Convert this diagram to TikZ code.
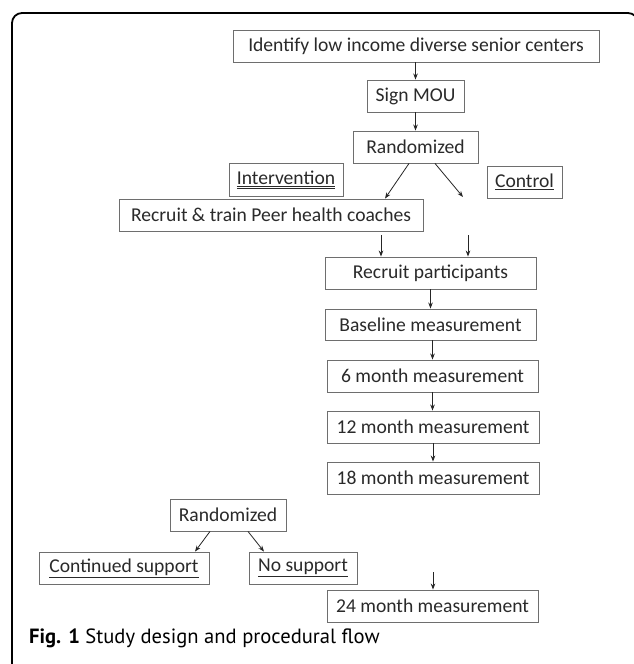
\documentclass[tikz,border=0pt]{standalone}
\usepackage{fontspec}
\setmainfont{Carlito}
\newfontfamily\capfont{PT Sans}
\usetikzlibrary{arrows.meta}
\definecolor{boxgray}{HTML}{6E6E6E}
\definecolor{txtgray}{HTML}{2A2A2A}
\begin{document}
\begin{tikzpicture}[x=1pt,y=-1pt,
  box/.style={draw=boxgray, line width=0.9pt, text=txtgray, inner sep=0pt,
    minimum height=32pt, font=\fontsize{19.6}{22}\selectfont},
  arr/.style={-{Stealth[length=6pt,width=4.5pt]}, line width=0.8pt, draw=black!85}]
\clip (0,0) rectangle (634,664);
\fill[white] (0,0) rectangle (634,664);
% outer frame
\draw[line width=1.8pt, rounded corners=10pt] (12,700) -- (12,13) -- (638,13) -- (638,700);
% boxes
\node[box, minimum width=366pt] (ident) at (416,46) {Identify low income diverse senior centers};
\node[box, minimum width=97pt] (mou) at (415.5,96) {Sign MOU};
\node[box, minimum width=125pt] (rand1) at (415.5,147) {Randomized};
\node[box, minimum width=114pt, minimum height=33pt] (interv) at (286,179.5) {\underline{\underline{Intervention}}};
\node[box, minimum width=75pt] (ctrl) at (524.5,182) {\underline{Control}};
\node[box, minimum width=304pt] (phc) at (271,215) {Recruit \& train Peer health coaches};
\node[box, minimum width=211pt] (rp) at (430.5,273) {Recruit participants};
\node[box, minimum width=211pt, minimum height=31pt] (base) at (430.5,324.5) {Baseline measurement};
\node[box, minimum width=211pt] (m6) at (432.5,376) {6 month measurement};
\node[box, minimum width=212pt] (m12) at (433,427) {12 month measurement};
\node[box, minimum width=212pt] (m18) at (433,478) {18 month measurement};
\node[box, minimum width=116pt] (rand2) at (228,515) {Randomized};
\node[box, minimum width=170pt] (cs) at (124,568) {\underline{Continued support}};
\node[box, minimum width=108pt] (ns) at (303,568) {\underline{No support}};
\node[box, minimum width=211pt] (m24) at (432.5,606) {24 month measurement};
% caption
\node[anchor=west, inner sep=0pt, text=black, font=\capfont\fontsize{20.6}{24}\selectfont] (cap) at (29,638) {\textbf{Fig. 1} Study design and procedural flow};
% helper coordinates
\coordinate (r1l) at (409,0);
\coordinate (r1le) at (385,0);
\coordinate (r1r) at (435,0);
\coordinate (ctrlend) at (463,197);
\coordinate (s1a) at (381,235);
\coordinate (s2a) at (468,235);
\coordinate (m24in) at (433,572);
\coordinate (r2l) at (210,0);
\coordinate (r2le) at (195,0);
\coordinate (r2r) at (248,0);
\coordinate (r2re) at (264,0);
% connectors
\draw[arr] (mou.north |- ident.south) -- (mou.north);
\draw[arr] (mou.south) -- (mou.south |- rand1.north);
\draw[arr] (rand1.south -| r1l) -- (phc.north -| r1le);
\draw[arr] (rand1.south -| r1r) -- (ctrlend);
\draw[arr] (s1a) -- (s1a |- rp.north);
\draw[arr] (s2a) -- (s2a |- rp.north);
\draw[arr] (rp.south) -- (rp.south |- base.north);
\draw[arr] (m6.north |- base.south) -- (m6.north);
\draw[arr] (m6.south) -- (m6.south |- m12.north);
\draw[arr] (m12.south) -- (m12.south |- m18.north);
\draw[arr] (m24in) -- (m24in |- m24.north);
\draw[arr] (rand2.south -| r2l) -- (cs.north -| r2le);
\draw[arr] (rand2.south -| r2r) -- (ns.north -| r2re);
\end{tikzpicture}
\end{document}
